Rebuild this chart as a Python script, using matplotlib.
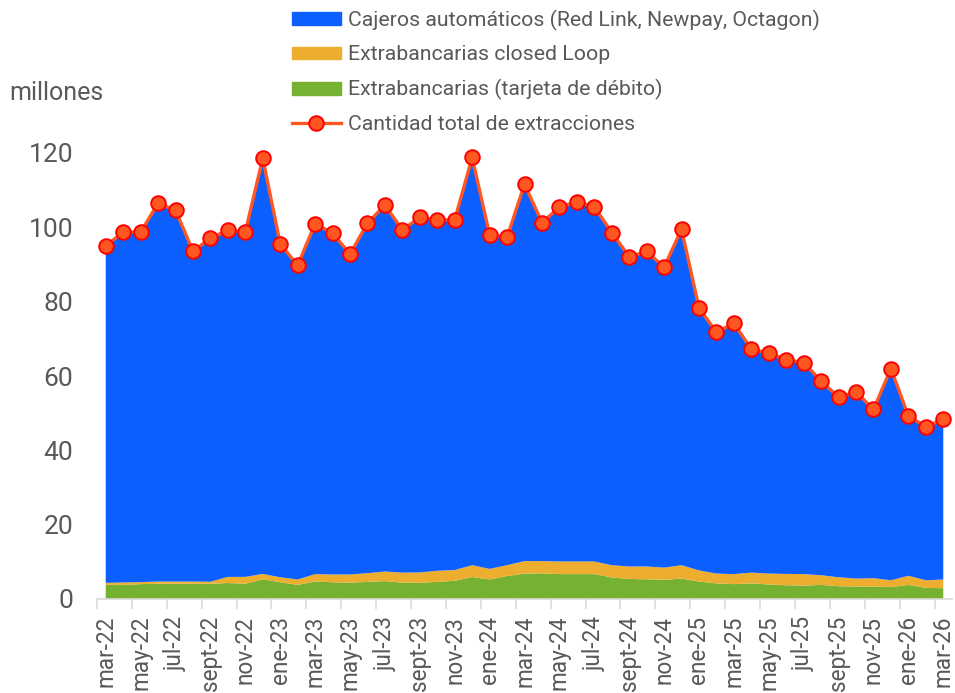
import numpy as np
import matplotlib
matplotlib.use("Agg")
import matplotlib.pyplot as plt
from matplotlib.lines import Line2D
from matplotlib.patches import Patch

plt.rcParams['font.family'] = ['Roboto', 'DejaVu Sans']
gris = "#595959"

# Data (millones de extracciones), mar-22 .. mar-26
meses = ["ene", "feb", "mar", "abr", "may", "jun", "jul", "ago", "sept", "oct", "nov", "dic"]
periodos = [f"{meses[(2 + k) % 12]}-{22 + (2 + k) // 12}" for k in range(49)]

total = [95.05, 98.7, 98.7, 106.5, 104.6, 93.6, 97.1, 99.2, 98.8, 118.6,
         95.5, 89.8, 101.0, 98.4, 92.8, 101.1, 106.0, 99.3, 102.7, 102.0,
         102.0, 118.8, 98.0, 97.3, 111.6, 101.3, 105.4, 106.9, 105.5, 98.6,
         92.1, 93.5, 89.3, 99.5, 78.3, 71.8, 74.2, 67.2, 66.2, 64.4,
         63.6, 58.6, 54.3, 55.7, 51.0, 62.0, 49.2, 46.4, 48.3]
debito = [3.8, 3.8, 4.0, 4.1, 4.1, 4.1, 4.1, 4.3, 4.1, 5.3,
          4.5, 3.8, 4.7, 4.5, 4.4, 4.6, 4.8, 4.4, 4.35, 4.6,
          4.9, 5.9, 5.25, 6.2, 6.8, 6.9, 6.7, 6.7, 6.7, 5.8,
          5.4, 5.3, 5.15, 5.5, 4.7, 4.2, 4.0, 4.2, 3.9, 3.7,
          3.6, 3.8, 3.45, 3.35, 3.35, 3.2, 3.8, 3.0, 2.9]
closed_loop = [0.55, 0.65, 0.55, 0.6, 0.6, 0.6, 0.55, 1.65, 1.85, 1.45,
               1.35, 1.45, 2.0, 2.1, 2.2, 2.35, 2.6, 2.7, 2.8, 3.0,
               2.9, 3.2, 2.85, 2.9, 3.4, 3.3, 3.4, 3.4, 3.4, 3.3,
               3.35, 3.45, 3.3, 3.6, 3.0, 2.65, 2.7, 2.9, 2.95, 3.05,
               3.1, 2.6, 2.4, 2.15, 2.25, 1.85, 2.45, 2.05, 2.35]

x = np.arange(len(total))
cajeros = np.array(total) - np.array(debito) - np.array(closed_loop)

c_azul = "#0B5FFF"
c_naranja = "#EDAE30"
c_verde = "#76B131"
c_linea = "#FF5722"

fig = plt.figure(figsize=(9.55, 6.93), dpi=100)
ax = fig.add_axes([97 / 955, 94 / 693, 855 / 955, 446 / 693])

ax.stackplot(x, debito, closed_loop, cajeros,
             colors=[c_verde, c_naranja, c_azul], linewidth=0)
ax.plot(x, total, color=c_linea, linewidth=2.4, marker="o", markersize=10.5,
        markerfacecolor=c_linea, markeredgecolor="#FF0000", markeredgewidth=1.4,
        clip_on=False, zorder=5)

ax.set_xlim(-0.5, 48.5)
ax.set_ylim(0, 120)

for s in ["top", "right", "left"]:
    ax.spines[s].set_visible(False)
ax.spines["bottom"].set_color("#D9D9D9")
ax.spines["bottom"].set_linewidth(1.2)

ax.set_yticks(range(0, 121, 20))
ax.tick_params(axis="y", length=0, pad=17, labelsize=19, labelcolor=gris)

ax.set_xticks(x[::2])
ax.set_xticklabels(periodos[::2], rotation=90, fontsize=16.3, color=gris)
ax.tick_params(axis="x", length=0, pad=12)
ax.set_xticks(np.arange(-0.5, 48, 2), minor=True)
ax.tick_params(axis="x", which="minor", length=7, width=1.2, color="#D9D9D9")

fig.text(9 / 955, 1 - 93 / 693, "millones", fontsize=18, color=gris, va="center", ha="left")

handles = [Patch(color=c_azul), Patch(color=c_naranja), Patch(color=c_verde),
           Line2D([], [], color=c_linea, linewidth=2.4, marker="o", markersize=10.5,
                  markerfacecolor=c_linea, markeredgecolor="#FF0000", markeredgewidth=1.4)]
labels = ["Cajeros automáticos (Red Link, Newpay, Octagon)",
          "Extrabancarias closed Loop",
          "Extrabancarias (tarjeta de débito)",
          "Cantidad total de extracciones"]
leg = fig.legend(handles, labels, loc="upper left", bbox_to_anchor=(283 / 955, 1 - 1 / 693),
                 frameon=False, fontsize=15.3, handlelength=2.35, handleheight=0.55,
                 handletextpad=0.3, labelspacing=0.7, labelcolor=gris, borderaxespad=0)

fig.savefig("out.png", dpi=100)
